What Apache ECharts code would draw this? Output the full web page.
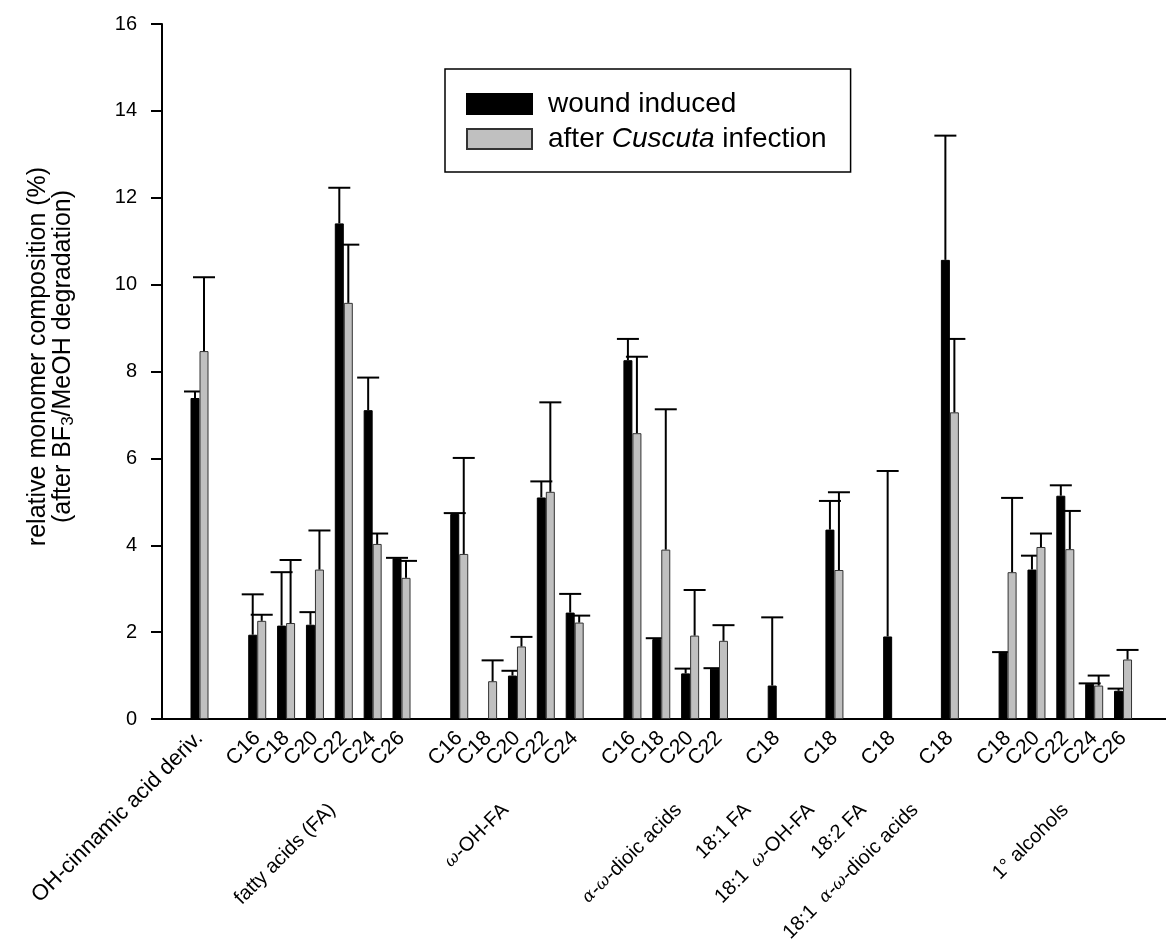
<!DOCTYPE html>
<html><head><meta charset="utf-8">
<script src="https://cdn.jsdelivr.net/npm/echarts@6/dist/echarts.min.js"></script>
<style>html,body{margin:0;padding:0;background:#fff}#c{width:1166px;height:939px}</style>
</head><body><div id="c"></div>
<script>
// ---- data ----
const categoryLabels = ['OH-cinnamic acid deriv.',
  'C16','C18','C20','C22','C24','C26',
  'C16','C18','C20','C22','C24',
  'C16','C18','C20','C22',
  'C18','C18','C18','C18',
  'C18','C20','C22','C24','C26'];
const categoryGroup = [0, 1,1,1,1,1,1, 2,2,2,2,2, 3,3,3,3, 4,5,6,7, 8,8,8,8,8];
const groupLabels = ['', 'fatty acids (FA)', 'ω-OH-FA', 'α-ω-dioic acids', '18:1 FA',
  '18:1  ω-OH-FA', '18:2 FA', '18:1  α-ω-dioic acids', '1° alcohols'];
const seriesNames = ['wound induced', 'after Cuscuta infection'];
const woundValues = [7.39, 1.94,2.15,2.17,11.41,7.11,3.70, 4.72,null,1.00,5.10,2.45,
  8.26,1.84,1.05,1.16, 0.77,4.36,1.90,10.57, 1.53,3.44,5.14,0.81,0.65];
const woundErrors = [0.15, 0.93,1.23,0.29,0.82,0.75,0.01, 0.02,null,0.11,0.37,0.43,
  0.49,0.02,0.11,0.01, 1.57,0.66,3.81,2.86, 0.01,0.32,0.24,0.01,0.05];
const cuscutaValues = [8.47, 2.26,2.21,3.44,9.58,4.03,3.25, 3.80,0.87,1.67,5.23,2.22,
  6.58,3.90,1.92,1.80, null,3.43,null,7.06, 3.38,3.96,3.91,0.77,1.37];
const cuscutaErrors = [1.70, 0.14,1.45,0.90,1.34,0.24,0.39, 2.21,0.48,0.22,2.06,0.16,
  1.76,3.23,1.05,0.36, null,1.79,null,1.69, 1.71,0.31,0.88,0.23,0.22];
const yMin = 0, yMax = 16, yStep = 2;

// ---- layout / style ----
const FONT = 'Liberation Sans, Arial, Helvetica, sans-serif';
const BAR_W = 9, CAP_W = 22;
const SUB = 5; // sub-slot resolution for the group label axis
const groupLabelShift = [0, 0.1, -0.4, 0.1, -1.0, -0.8, -1.0, -1.2, 0.0];

// build slots (a blank slot between groups)
const slots = [];
let prevGroup = null;
categoryLabels.forEach((lab, i) => {
  if (prevGroup !== null && categoryGroup[i] !== prevGroup) slots.push(null);
  slots.push(i);
  prevGroup = categoryGroup[i];
});
const slotLabels = slots.map(c => c === null ? '' : categoryLabels[c]);
const slotVals = arr => slots.map(c => (c === null || arr[c] == null) ? '-' : arr[c]);
const errData = (vals, errs) => {
  const out = [];
  slots.forEach((c, k) => {
    if (c !== null && vals[c] != null) out.push([k, vals[c], vals[c] + (errs[c] || 0)]);
  });
  return out;
};
// group label axis
const fineLabels = new Array(slots.length * SUB).fill('');
groupLabels.forEach((g, gi) => {
  if (!g) return;
  const ks = [];
  slots.forEach((c, k) => { if (c !== null && categoryGroup[c] === gi) ks.push(k); });
  const center = (ks[0] + ks[ks.length - 1]) / 2 + groupLabelShift[gi];
  fineLabels[Math.round(center * SUB + (SUB - 1) / 2)] = g;
});
const symFmt = s => s.replace(/([αω])/g, '{sym|$1}');
const symRich = { sym: { fontFamily: 'DejaVu Serif, serif', fontStyle: 'italic', fontSize: 17, color: '#000' } };
const catFmt = (s, i) => (i === 0 ? '{big|' + s + '}' : s);

function errSeries(name, data, dir, z) {
  return {
    type: 'custom', name: name + ' err', xAxisIndex: 1, yAxisIndex: 1, z: z, silent: true,
    encode: { x: 0, y: [1, 2] }, data: data,
    renderItem: (params, api) => {
      const x = api.value(0);
      const p0 = api.coord([x, api.value(1)]);
      const p1 = api.coord([x, api.value(2)]);
      const cx = p0[0] + dir * BAR_W / 2;
      const st = { stroke: '#000', lineWidth: 2 };
      return { type: 'group', children: [
        { type: 'line', shape: { x1: cx, y1: p0[1], x2: cx, y2: p1[1] }, style: st },
        { type: 'line', shape: { x1: cx - CAP_W / 2, y1: p1[1], x2: cx + CAP_W / 2, y2: p1[1] }, style: st }
      ]};
    }
  };
}

const chart = echarts.init(document.getElementById('c'), null, { renderer: 'canvas' });
chart.setOption({
  animation: false,
  backgroundColor: '#fff',
  textStyle: { fontFamily: FONT, color: '#000' },
  grid: [
    { left: 162, right: 0, top: 24, bottom: 220, containLabel: false, outerBoundsMode: 'none' },
    { left: 185.07, width: 952.4, top: 24, bottom: 220, containLabel: false, outerBoundsMode: 'none' }
  ],
  legend: {
    orient: 'vertical', left: 445, top: 69,
    padding: [21, 24, 19, 21], itemGap: 7, itemWidth: 65, itemHeight: 20,
    borderColor: '#000', borderWidth: 1.5,
    data: seriesNames.map(n => ({ name: n, icon: 'rect' })),
    formatter: n => n.replace('Cuscuta', '{i|Cuscuta}'),
    textStyle: { fontFamily: FONT, fontSize: 28, color: '#000', padding: [0, 0, 0, 11],
      rich: { i: { fontFamily: FONT, fontSize: 28, fontStyle: 'italic', color: '#000' } } }
  },
  xAxis: [
    { type: 'value', gridIndex: 0, min: 0, max: 1, axisLine: { show: true, lineStyle: { color: '#000', width: 2 } },
      axisTick: { show: false }, axisLabel: { show: false }, splitLine: { show: false } },
    { type: 'category', gridIndex: 1, data: slotLabels, axisLine: { show: false }, axisTick: { show: false },
      axisLabel: { interval: 0, rotate: 45, margin: 16, fontSize: 21, fontFamily: FONT, color: '#000',
        formatter: catFmt,
        rich: { big: { fontSize: 22, fontFamily: FONT, color: '#000' } } } },
    { type: 'category', gridIndex: 1, position: 'bottom', data: fineLabels, axisLine: { show: false }, axisTick: { show: false },
      axisLabel: { interval: 0, rotate: 45, margin: 88, fontSize: 20, fontFamily: FONT, color: '#000',
        formatter: symFmt, rich: symRich } }
  ],
  yAxis: [
    { type: 'value', gridIndex: 0, min: yMin, max: yMax, interval: yStep,
      axisLine: { show: true, lineStyle: { color: '#000', width: 2 } },
      axisTick: { show: true, inside: false, length: 11, lineStyle: { color: '#000', width: 2 } },
      axisLabel: { fontSize: 20, fontFamily: FONT, color: '#000', margin: 25 },
      splitLine: { show: false },
      name: 'relative monomer composition (%)\n(after BF{sub|3}/MeOH degradation)',
      nameLocation: 'middle', nameGap: 86, nameRotate: 90,
      nameTextStyle: { fontSize: 25, fontFamily: FONT, color: '#000', lineHeight: 25, padding: [0, 0, 0, 30],
        rich: { sub: { fontSize: 17, fontFamily: FONT, color: '#000', padding: [10, 0, 0, 0] } } } },
    { type: 'value', gridIndex: 1, min: yMin, max: yMax, interval: yStep, show: false }
  ],
  series: [
    { type: 'bar', name: seriesNames[0], xAxisIndex: 1, yAxisIndex: 1, z: 2, barWidth: BAR_W, barGap: '0%',
      itemStyle: { color: '#000', borderColor: '#000', borderWidth: 1 }, data: slotVals(woundValues) },
    errSeries(seriesNames[0], errData(woundValues, woundErrors), -1, 3),
    { type: 'bar', name: seriesNames[1], xAxisIndex: 1, yAxisIndex: 1, z: 4, barWidth: BAR_W, barGap: '0%',
      itemStyle: { color: '#c0c0c0', borderColor: '#333', borderWidth: 1 }, data: slotVals(cuscutaValues) },
    errSeries(seriesNames[1], errData(cuscutaValues, cuscutaErrors), 1, 5)
  ]
});
</script></body></html>
